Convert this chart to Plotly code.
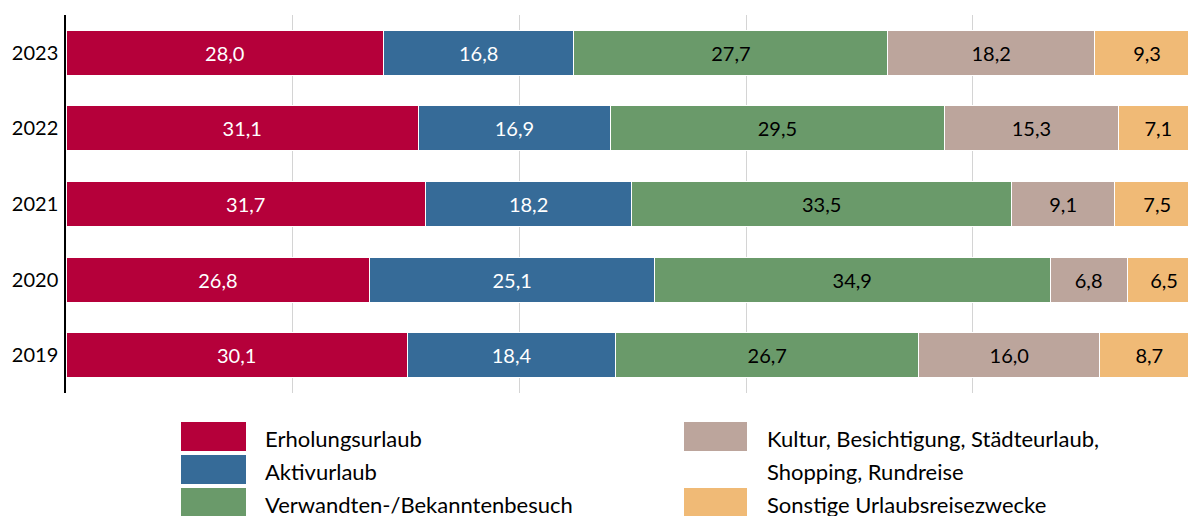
import plotly.graph_objects as go

years = ["2019", "2020", "2021", "2022", "2023"]
series_names = [
    "Erholungsurlaub",
    "Aktivurlaub",
    "Verwandten-/Bekanntenbesuch",
    "Kultur, Besichtigung, Städteurlaub,|Shopping, Rundreise",
    "Sonstige Urlaubsreisezwecke",
]
erholung = [30.1, 26.8, 31.7, 31.1, 28.0]
aktiv = [18.4, 25.1, 18.2, 16.9, 16.8]
verwandte = [26.7, 34.9, 33.5, 29.5, 27.7]
kultur = [16.0, 6.8, 9.1, 15.3, 18.2]
sonstige = [8.7, 6.5, 7.5, 7.1, 9.3]
series_values = [erholung, aktiv, verwandte, kultur, sonstige]
colors = ["#B5003A", "#366B98", "#6A9A6A", "#BCA59C", "#F0BA76"]
text_colors = ["white", "white", "black", "black", "black"]

FONT = "Lato"
OFF = 8  # page body margin offset
W, H = 1196 - OFF, 516 - OFF
ML, MR, MT, MB = 66 - OFF, 0, 15 - OFF, 516 - 393

fig = go.Figure()
for name, vals, col, tcol in zip(series_names, series_values, colors, text_colors):
    fig.add_trace(go.Bar(
        y=years, x=vals, orientation="h", name=name.replace("|", " "),
        marker=dict(color=col, line=dict(color="white", width=1)),
        text=[f"{v:.1f}".replace(".", ",") for v in vals],
        textposition="inside", insidetextanchor="middle", textangle=0,
        constraintext="none",
        textfont=dict(color=tcol, size=20, family=FONT),
        showlegend=False,
    ))

pw = W - ML - MR
ph = H - MT - MB

def px_x(p):
    return (p - OFF - ML) / pw

def px_y(p):
    return (H - MB - (p - OFF)) / ph

shapes = []
annotations = []
cols_x = [(181, 246, 263), (684, 747, 765)]
row_y = [422, 455, 488]
slots = [(0, 0), (0, 1), (0, 2), (1, 0), (1, 2)]
for (ci, ri), name, col in zip(slots, series_names, colors):
    x0, x1, tx = cols_x[ci]
    y0 = row_y[ri]
    shapes.append(dict(type="rect", xref="paper", yref="paper",
                       x0=px_x(x0), x1=px_x(x1), y0=px_y(y0), y1=px_y(y0 + 29),
                       fillcolor=col, line=dict(width=0)))
    for k, line in enumerate(name.split("|")):
        annotations.append(dict(xref="paper", yref="paper", x=px_x(tx),
                                y=px_y(y0 + 16 + 33 * k), text=line,
                                showarrow=False, xanchor="left", yanchor="middle",
                                font=dict(size=22, family=FONT, color="black")))

fig.update_layout(
    width=W, height=H,
    margin=dict(l=ML, r=MR, t=MT, b=MB),
    barmode="stack", bargap=0.405,
    plot_bgcolor="white", paper_bgcolor="white",
    font=dict(family=FONT, size=20, color="black"),
    xaxis=dict(range=[0, 99.67], dtick=20, showgrid=True, gridcolor="#D4D4D4",
               gridwidth=1, showticklabels=False, zeroline=False, showline=False,
               fixedrange=True),
    yaxis=dict(categoryorder="array", categoryarray=years, showline=True,
               linecolor="black", linewidth=1.5, ticks="", showgrid=False,
               tickfont=dict(size=20, family=FONT, color="black"), ticklabelstandoff=2),
    shapes=shapes, annotations=annotations,
)

fig.write_html("out.html")
